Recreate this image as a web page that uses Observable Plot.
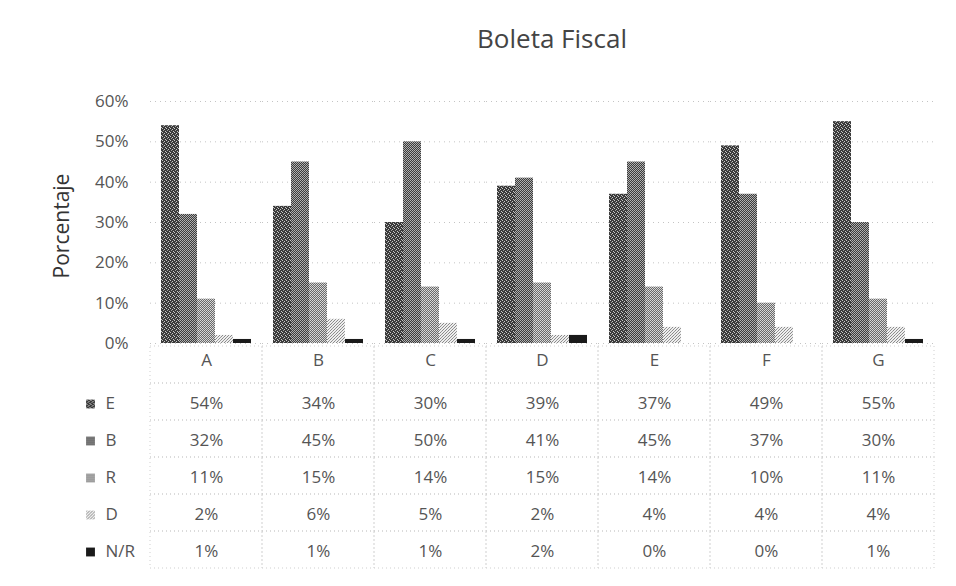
<!DOCTYPE html>
<html>
<head>
<meta charset="utf-8">
<script src="https://cdn.jsdelivr.net/npm/d3@7"></script>
<script src="https://cdn.jsdelivr.net/npm/@observablehq/plot@0.6"></script>
<style>
  html, body { margin: 0; padding: 0; background: #fff; }
  #wrap { position: relative; width: 956px; height: 586px; overflow: hidden; font-family: "Open Sans", Lato, sans-serif; color: #555; }
  #title { position: absolute; left: 0; width: 1104px; top: 20px; text-align: center; font-size: 26px; color: #444; z-index: 2; }
  #ylabel { position: absolute; left: 61px; top: 226px; transform: translate(-50%, -50%) rotate(-90deg); font-size: 21px; color: #333; white-space: nowrap; z-index: 2; }
  .layer { position: absolute; left: 0; top: 0; }
  svg { display: block; }
</style>
</head>
<body>
<svg width="0" height="0" style="position:absolute">
  <defs>
    <pattern id="patE" width="4" height="4" patternUnits="userSpaceOnUse">
      <rect width="4" height="4" fill="#3a3a3a"/>
      <rect x="0" y="0" width="1" height="1" fill="#c8c8c8"/>
      <rect x="2" y="1" width="1" height="1" fill="#c8c8c8"/>
      <rect x="1" y="2" width="1" height="1" fill="#a0a0a0"/>
      <rect x="3" y="3" width="1" height="1" fill="#c8c8c8"/>
    </pattern>
    <pattern id="patB" width="2" height="2" patternUnits="userSpaceOnUse">
      <rect width="2" height="2" fill="#3c3c3c"/>
      <rect x="0" y="0" width="1" height="1" fill="#b4b4b4"/>
      <rect x="1" y="1" width="1" height="1" fill="#a8a8a8"/>
    </pattern>
    <pattern id="patR" width="2" height="2" patternUnits="userSpaceOnUse">
      <rect width="2" height="2" fill="#6a6a6a"/>
      <rect x="0" y="0" width="1" height="1" fill="#dcdcdc"/>
      <rect x="1" y="1" width="1" height="1" fill="#d0d0d0"/>
    </pattern>
    <pattern id="patD" width="3" height="3" patternUnits="userSpaceOnUse">
      <rect width="3" height="3" fill="#eeeeee"/>
      <rect x="0" y="0" width="1" height="1" fill="#8a8a8a"/>
      <rect x="2" y="1" width="1" height="1" fill="#9a9a9a"/>
      <rect x="1" y="2" width="1" height="1" fill="#8a8a8a"/>
    </pattern>
  </defs>
</svg>
<div id="wrap">
  <div id="chart" class="layer"></div>
  <div id="table" class="layer"></div>
  <div id="title">Boleta Fiscal</div>
  <div id="ylabel">Porcentaje</div>
</div>
<script>
const categories = ["A", "B", "C", "D", "E", "F", "G"];
const series = ["E", "B", "R", "D", "N/R"];
const valuesE  = [54, 34, 30, 39, 37, 49, 55];
const valuesB  = [32, 45, 50, 41, 45, 37, 30];
const valuesR  = [11, 15, 14, 15, 14, 10, 11];
const valuesD  = [2, 6, 5, 2, 4, 4, 4];
const valuesNR = [1, 1, 1, 2, 0, 0, 1];
const yTicks = [0, 0.1, 0.2, 0.3, 0.4, 0.5, 0.6];
const fills = ["url(#patE)", "url(#patB)", "url(#patR)", "url(#patD)", "#1a1a1a"];

const seriesValues = [valuesE, valuesB, valuesR, valuesD, valuesNR];
const data = [];
categories.forEach((c, i) => {
  series.forEach((s, j) => {
    data.push({cat: c, series: s, value: seriesValues[j][i] / 100});
  });
});
const fillOf = s => fills[series.indexOf(s)];

const font = '"Open Sans", Lato, sans-serif';

const chart = Plot.plot({
  width: 956,
  height: 586,
  marginTop: 101,
  marginBottom: 243,
  marginLeft: 148,
  marginRight: 20,
  style: {fontFamily: font, fontSize: "17px", color: "#555", background: "transparent"},
  fx: {domain: categories, padding: 0, axis: null},
  x: {domain: series, padding: 0, paddingOuter: 0.6, axis: null},
  y: {domain: [0, 0.6], axis: null},
  marks: [
    Plot.gridY(yTicks, {stroke: "#c4c4c4", strokeOpacity: 1, strokeDasharray: "1,4"}),
    Plot.barY(data, {fx: "cat", x: "series", y: "value", fill: d => fillOf(d.series), inset: 0}),
    Plot.axisY(yTicks, {tickFormat: d3.format(".0%"), tickSize: 0, tickPadding: 22, label: null, fill: "#555", fontSize: 17})
  ]
});
document.getElementById("chart").appendChild(chart);

const rows = ["hdr", ...series];
const cells = [];
categories.forEach((c, i) => {
  cells.push({cat: c, row: "hdr", text: c});
  series.forEach((s, j) => {
    cells.push({cat: c, row: s, text: seriesValues[j][i] + "%"});
  });
});

const table = Plot.plot({
  width: 956,
  height: 586,
  marginTop: 344,
  marginBottom: 16,
  marginLeft: 148,
  marginRight: 20,
  style: {fontFamily: font, fontSize: "17px", color: "#555", background: "transparent"},
  x: {domain: categories, padding: 0, axis: null},
  y: {domain: rows, padding: 0, axis: null},
  marks: [
    Plot.cell(cells, {x: "cat", y: "row", fill: "none", stroke: "#cfcfcf", strokeDasharray: "1,3"}),
    Plot.text(cells.filter(d => d.row === "hdr"), {x: "cat", y: "row", text: "text", fill: "#555", fontSize: 17, dy: -4}),
    Plot.text(cells.filter(d => d.row !== "hdr"), {x: "cat", y: "row", text: "text", fill: "#555", fontSize: 17, dy: 2}),
    Plot.dot(series, {y: d => d, frameAnchor: "left", dx: -58, dy: 2, symbol: "square", r: 5, fill: d => fillOf(d), stroke: "none"}),
    Plot.text(series, {y: d => d, text: d => d, frameAnchor: "left", dx: -43, dy: 2, textAnchor: "start", fill: "#555", fontSize: 17})
  ]
});
document.getElementById("table").appendChild(table);
</script>
</body>
</html>
